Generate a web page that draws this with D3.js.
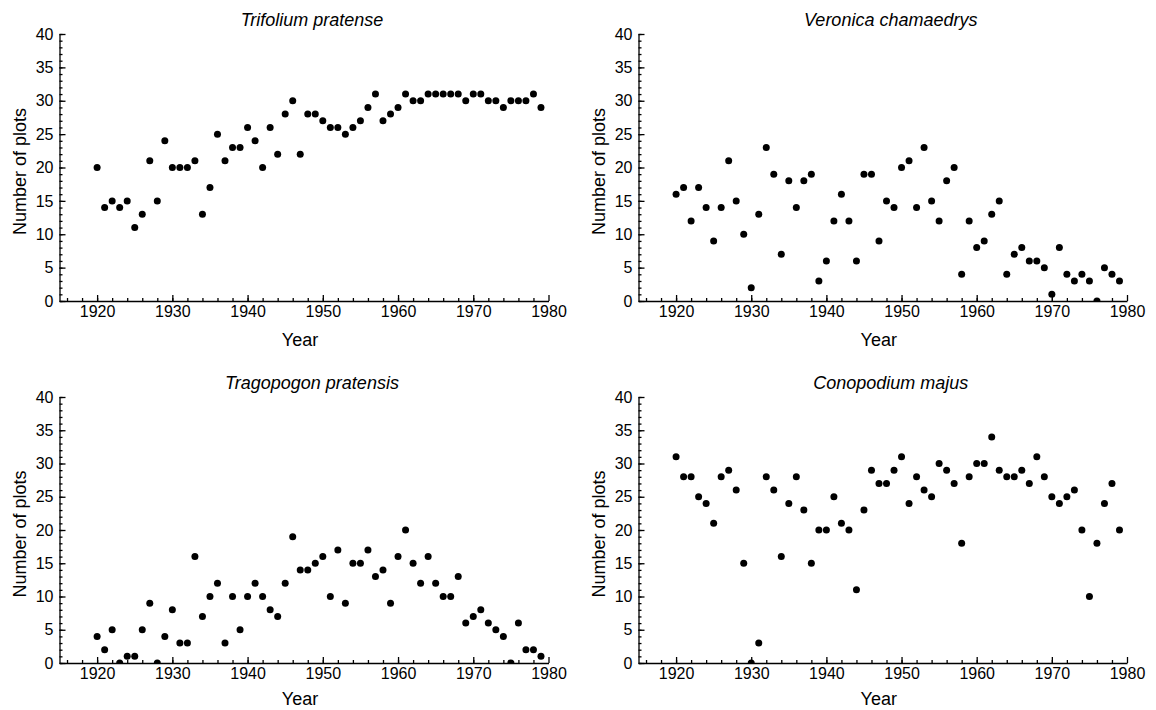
<!DOCTYPE html>
<html>
<head>
<meta charset="utf-8">
<script src="https://cdn.jsdelivr.net/npm/d3@7"></script>
<style>
  body { margin: 0; background: #fff; }
  svg { font-family: "Liberation Sans", Arial, Helvetica, sans-serif; }
  .axis path, .axis line { stroke: #000; stroke-width: 1.3; }
  .axis text { font-size: 16px; fill: #000; }
</style>
</head>
<body>
<svg id="chart" width="1156" height="710"></svg>
<script>
// one count per year, 1920 .. 1979
const years = d3.range(1920, 1980);
const xTicks = [1920, 1930, 1940, 1950, 1960, 1970, 1980];
const yTicks = [0, 5, 10, 15, 20, 25, 30, 35, 40];

const trifolium = [20, 14, 15, 14, 15, 11, 13, 21, 15, 24,
  20, 20, 20, 21, 13, 17, 25, 21, 23, 23,
  26, 24, 20, 26, 22, 28, 30, 22, 28, 28,
  27, 26, 26, 25, 26, 27, 29, 31, 27, 28,
  29, 31, 30, 30, 31, 31, 31, 31, 31, 30,
  31, 31, 30, 30, 29, 30, 30, 30, 31, 29];

const veronica = [16, 17, 12, 17, 14, 9, 14, 21, 15, 10,
  2, 13, 23, 19, 7, 18, 14, 18, 19, 3,
  6, 12, 16, 12, 6, 19, 19, 9, 15, 14,
  20, 21, 14, 23, 15, 12, 18, 20, 4, 12,
  8, 9, 13, 15, 4, 7, 8, 6, 6, 5,
  1, 8, 4, 3, 4, 3, 0, 5, 4, 3];

const tragopogon = [4, 2, 5, 0, 1, 1, 5, 9, 0, 4,
  8, 3, 3, 16, 7, 10, 12, 3, 10, 5,
  10, 12, 10, 8, 7, 12, 19, 14, 14, 15,
  16, 10, 17, 9, 15, 15, 17, 13, 14, 9,
  16, 20, 15, 12, 16, 12, 10, 10, 13, 6,
  7, 8, 6, 5, 4, 0, 6, 2, 2, 1];

const conopodium = [31, 28, 28, 25, 24, 21, 28, 29, 26, 15,
  0, 3, 28, 26, 16, 24, 28, 23, 15, 20,
  20, 25, 21, 20, 11, 23, 29, 27, 27, 29,
  31, 24, 28, 26, 25, 30, 29, 27, 18, 28,
  30, 30, 34, 29, 28, 28, 29, 27, 31, 28,
  25, 24, 25, 26, 20, 10, 18, 24, 27, 20];

const species = ["Trifolium pratense", "Veronica chamaedrys", "Tragopogon pratensis", "Conopodium majus"];
const counts = [trifolium, veronica, tragopogon, conopodium];

const svg = d3.select("#chart");

// plot frames: left/right columns, top/bottom rows
const cols = [[59.5, 548.5], [638.5, 1127]];
const rows = [[34, 301], [397, 663]];
const yearGap = [45, 42];

species.forEach(function (name, i) {
  const xr = cols[i % 2];
  const row = Math.floor(i / 2);
  const yr = rows[row];

  const x = d3.scaleLinear().domain([1915, 1980]).range(xr);
  const y = d3.scaleLinear().domain([0, 40]).range([yr[1], yr[0]]);

  const g = svg.append("g");

  // minor ticks
  g.append("g")
    .attr("class", "axis")
    .attr("transform", "translate(0," + yr[1] + ")")
    .call(d3.axisBottom(x).tickValues(d3.range(1916, 1980, 2)).tickSize(-3).tickFormat(""))
    .select(".domain").remove();
  g.append("g")
    .attr("class", "axis")
    .attr("transform", "translate(" + xr[0] + ",0)")
    .call(d3.axisLeft(y).tickValues(d3.range(0, 41, 1)).tickSize(-3).tickFormat(""))
    .select(".domain").remove();

  // major ticks + labels
  g.append("g")
    .attr("class", "axis")
    .attr("transform", "translate(0," + yr[1] + ")")
    .call(d3.axisBottom(x).tickValues(xTicks).tickSize(-6).tickSizeOuter(0).tickPadding(5).tickFormat(d3.format("d")));
  g.append("g")
    .attr("class", "axis")
    .attr("transform", "translate(" + xr[0] + ",0)")
    .call(d3.axisLeft(y).tickValues(yTicks).tickSize(-6).tickSizeOuter(0).tickPadding(6));

  // points, clipped at the axis line
  const clipId = "clip" + i;
  svg.append("clipPath").attr("id", clipId)
    .append("rect")
    .attr("x", xr[0]).attr("y", yr[0] - 10)
    .attr("width", xr[1] - xr[0] + 10).attr("height", yr[1] - yr[0] + 10);

  g.append("g")
    .attr("clip-path", "url(#" + clipId + ")")
    .selectAll("circle")
    .data(counts[i])
    .join("circle")
    .attr("cx", function (d, j) { return x(years[j]); })
    .attr("cy", function (d) { return y(d); })
    .attr("r", 3.5)
    .attr("fill", "#000");

  // title
  g.append("text")
    .attr("x", (xr[0] + xr[1]) / 2 + 8)
    .attr("y", yr[0] - 8)
    .attr("text-anchor", "middle")
    .style("font-size", "18px")
    .style("font-style", "italic")
    .text(name);

  // axis titles
  g.append("text")
    .attr("x", (xr[0] + xr[1]) / 2 - 4)
    .attr("y", yr[1] + yearGap[row])
    .attr("text-anchor", "middle")
    .style("font-size", "18px")
    .text("Year");

  g.append("text")
    .attr("transform", "translate(" + (xr[0] - 34) + "," + ((yr[0] + yr[1]) / 2 + 4) + ") rotate(-90)")
    .attr("text-anchor", "middle")
    .style("font-size", "18px")
    .text("Number of plots");
});
</script>
</body>
</html>
